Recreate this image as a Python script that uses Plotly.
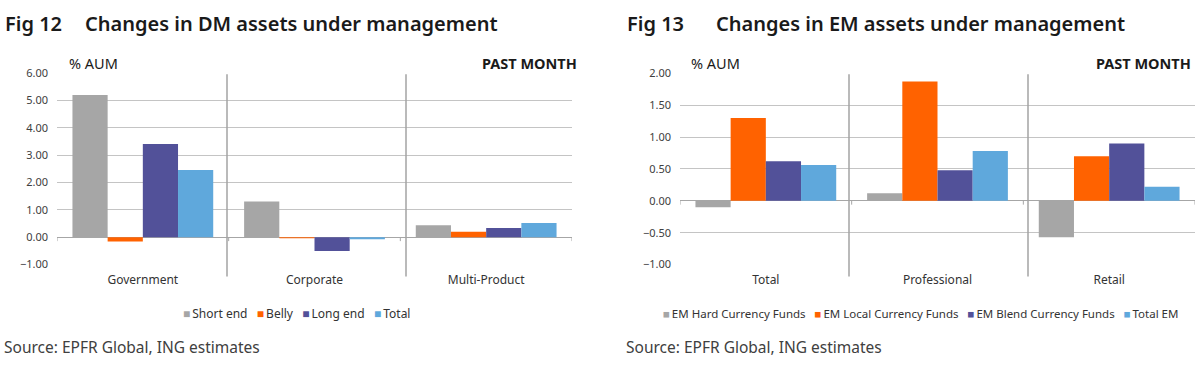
import plotly.graph_objects as go

# ---- data ----
dm_categories = ["Government", "Corporate", "Multi-Product"]
dm_short_end = [5.20, 1.31, 0.44]
dm_belly = [-0.15, -0.03, 0.20]
dm_long_end = [3.41, -0.50, 0.34]
dm_total = [2.46, -0.05, 0.52]
dm_series = ["Short end", "Belly", "Long end", "Total"]

em_categories = ["Total", "Professional", "Retail"]
em_hard = [-0.10, 0.12, -0.57]
em_local = [1.30, 1.87, 0.70]
em_blend = [0.62, 0.48, 0.90]
em_total = [0.56, 0.78, 0.22]
em_series = ["EM Hard Currency Funds", "EM Local Currency Funds",
             "EM Blend Currency Funds", "Total EM"]

dm_ticks = [-1, 0, 1, 2, 3, 4, 5, 6]
em_ticks = [-1.0, -0.5, 0.0, 0.5, 1.0, 1.5, 2.0]

colors = ["#A6A6A6", "#FF6200", "#525199", "#5FA8DC"]

W, H = 1200, 369
FONT = "Noto Sans"
TXT = "#333333"

fig = go.Figure()

for name, vals, c in zip(dm_series, [dm_short_end, dm_belly, dm_long_end, dm_total], colors):
    fig.add_trace(go.Bar(x=dm_categories, y=vals, name=name, marker_color=c,
                         marker_line_width=0, xaxis="x", yaxis="y", showlegend=False))
for name, vals, c in zip(em_series, [em_hard, em_local, em_blend, em_total], colors):
    fig.add_trace(go.Bar(x=em_categories, y=vals, name=name, marker_color=c,
                         marker_line_width=0, xaxis="x2", yaxis="y2", showlegend=False))

def px_x(p):
    return p / W

def px_y(p):
    return 1 - p / H

ydom = [px_y(267.5), px_y(68)]
grid = "#C4C4C4"

common_x = dict(showgrid=False, showline=False, ticks="", zeroline=False,
                range=[-0.5, 2.5], tickfont=dict(family=FONT, size=12, color=TXT),
                ticklabelstandoff=6, fixedrange=True)
common_y = dict(showgrid=True, gridcolor=grid, gridwidth=1, zeroline=True,
                zerolinecolor="#A6A6A6", zerolinewidth=1, showline=False, ticks="",
                tickformat=".2f", tickfont=dict(family=FONT, size=11, color="#404040"),
                ticklabelstandoff=8, fixedrange=True)

fig.update_layout(
    width=W, height=H, autosize=False,
    margin=dict(l=0, r=0, t=0, b=0),
    paper_bgcolor="white", plot_bgcolor="white",
    barmode="group", bargap=0.18, bargroupgap=0,
    xaxis=dict(domain=[px_x(57), px_x(572)], anchor="y", **common_x),
    yaxis=dict(domain=ydom, anchor="x", range=[-1, 6], tickvals=dm_ticks, **common_y),
    xaxis2=dict(domain=[px_x(680), px_x(1195)], anchor="y2", **common_x),
    yaxis2=dict(domain=ydom, anchor="x2", range=[-1, 2], tickvals=em_ticks, **common_y),
    showlegend=False,
)

shapes = []
# panel dividers (drawn slightly off the category boundaries, as in the source)
for xp in [227, 406, 849, 1028]:
    shapes.append(dict(type="line", xref="paper", yref="paper", x0=px_x(xp), x1=px_x(xp),
                       y0=px_y(280), y1=px_y(69), line=dict(color="#A3A3A3", width=1.5)))
# small category ticks on the zero line
for xr, yr, tk in [("x", "y", 0.14), ("x2", "y2", 0.06)]:
    for xv in [-0.5, 0.5, 1.5, 2.5]:
        shapes.append(dict(type="line", xref=xr, yref=yr, x0=xv, x1=xv,
                           y0=0, y1=-tk, line=dict(color="#A6A6A6", width=1)))
fig.update_layout(shapes=shapes)

ann = []
def text(x, y, s, size, xanchor="left", weight=None, color=TXT):
    f = dict(family=FONT, size=size, color=color)
    if weight:
        f["weight"] = weight
    ann.append(dict(x=px_x(x), y=px_y(y), xref="paper", yref="paper", text=s,
                    showarrow=False, xanchor=xanchor, yanchor="middle", font=f))

def legend_text(names):
    parts = []
    for n, c in zip(names, colors):
        parts.append(f'<span style="color:{c}">■</span>&#8201;{n}')
    return "&nbsp;&nbsp;&nbsp;".join(parts)

TITLE = "#1a1a1a"
text(3, 16, "Fig 12", 20, weight=600, color=TITLE)
text(83, 16, "Changes in DM assets under management", 20, weight=600, color=TITLE)
text(625, 16, "Fig 13", 20, weight=600, color=TITLE)
text(714, 16, "Changes in EM assets under management", 20, weight=600, color=TITLE)
text(67, 57, "% AUM", 14.5, color=TITLE)
text(579, 57, "PAST MONTH", 14.5, xanchor="right", weight=700, color=TITLE)
text(689, 57, "% AUM", 14.5, color=TITLE)
text(1193, 57, "PAST MONTH", 14.5, xanchor="right", weight=700, color=TITLE)
text(181, 318, legend_text(dm_series), 12)
text(661, 318, legend_text(em_series), 11.5)
text(2, 353, "Source: EPFR Global, ING estimates", 15.5, color="#404040")
text(624, 353, "Source: EPFR Global, ING estimates", 15.5, color="#404040")
fig.update_layout(annotations=ann)

fig.write_html("out.html", config={"displayModeBar": False},
               post_script="document.body.style.margin='0';document.body.style.overflow='hidden';")
